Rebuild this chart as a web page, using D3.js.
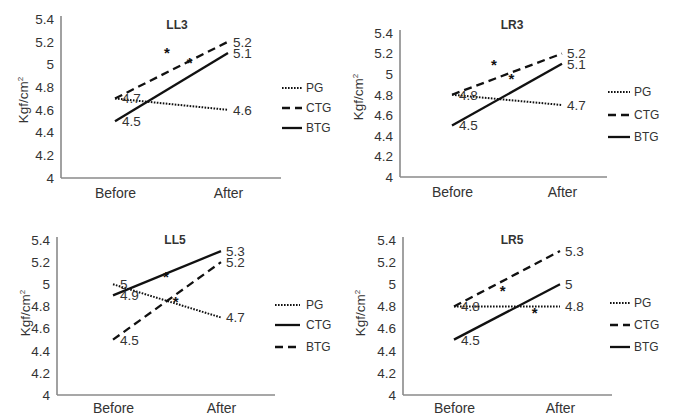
<!DOCTYPE html>
<html><head><meta charset="utf-8">
<script src="https://cdn.jsdelivr.net/npm/d3@7"></script>
<style>body{margin:0;background:#fff}svg{display:block}text{font-family:"Liberation Sans",Arial,sans-serif}</style>
</head><body><svg id="c" width="678" height="416"></svg>
<script>
// ---- data ----
const categories = ["Before", "After"];
const yTicks = [4, 4.2, 4.4, 4.6, 4.8, 5, 5.2, 5.4];
const panelTitles = ["LL3", "LR3", "LL5", "LR5"];
const seriesNames = ["PG", "CTG", "BTG"];
const yLabel = "Kgf/cm";

const LL3_PG = [4.7, 4.6], LL3_CTG = [4.7, 5.2], LL3_BTG = [4.5, 5.1];
const LR3_PG = [4.8, 4.7], LR3_CTG = [4.8, 5.2], LR3_BTG = [4.5, 5.1];
const LL5_PG = [5.0, 4.7], LL5_CTG = [4.9, 5.3], LL5_BTG = [4.5, 5.2];
const LR5_PG = [4.8, 4.8], LR5_CTG = [4.8, 5.3], LR5_BTG = [4.5, 5.0];

// significance asterisks: [fraction between Before and After, value]
const LL3_stars = [[0.46, 5.13], [0.66, 5.04]];
const LR3_stars = [[0.38, 5.12], [0.54, 4.98]];
const LL5_stars = [[0.49, 5.09], [0.58, 4.87]];
const LR5_stars = [[0.46, 4.97], [0.76, 4.77]];

// ---- layout / style ----
const dashStyles = {dotted: "1.6,1.4", dashed: "8,5", solid: null};
const panels = [
  {title: panelTitles[0], data: [LL3_PG, LL3_CTG, LL3_BTG], styles: ["dotted","dashed","solid"], stars: LL3_stars,
   ax: 61, xEnd: 281, yTop: 19, yBot: 178, bx: 115, afx: 228, tx: 177, ty: 25, pad: 10,
   lx0: 282, lx1: 302, ltx: 306, ly: [88,108,128], ylx: 23, yly: 100},
  {title: panelTitles[1], data: [LR3_PG, LR3_CTG, LR3_BTG], styles: ["dotted","dashed","solid"], stars: LR3_stars,
   ax: 400, xEnd: 607, yTop: 33, yBot: 177, bx: 452, afx: 562, tx: 512, ty: 25, pad: 10,
   lx0: 608, lx1: 630, ltx: 634, ly: [92,115,137], ylx: 358, yly: 97},
  {title: panelTitles[2], data: [LL5_PG, LL5_CTG, LL5_BTG], styles: ["dotted","solid","dashed"], stars: LL5_stars,
   ax: 57, xEnd: 275, yTop: 240, yBot: 395, bx: 113, afx: 221, tx: 175, ty: 240, pad: 8,
   lx0: 275, lx1: 300, ltx: 306, ly: [305,325,347], ylx: 25, yly: 313},
  {title: panelTitles[3], data: [LR5_PG, LR5_CTG, LR5_BTG], styles: ["dotted","dashed","solid"], stars: LR5_stars,
   ax: 403, xEnd: 612, yTop: 240, yBot: 395, bx: 454, afx: 560, tx: 512, ty: 240, pad: 8,
   lx0: 610, lx1: 630, ltx: 634, ly: [303,325,347], ylx: 360, yly: 313}
];

const svg = d3.select("#c");
const fmt = d => String(+d.toFixed(1));
const txtCol = "#333";

panels.forEach(p => {
  const g = svg.append("g");
  const y = d3.scaleLinear().domain([4, 5.4]).range([p.yBot, p.yTop]);
  const x = d3.scalePoint().domain(categories).range([p.bx, p.afx]);

  // y axis
  const yAxis = g.append("g").attr("transform", `translate(${p.ax},0)`)
    .call(d3.axisLeft(y).tickValues(yTicks).tickFormat(fmt).tickSize(0).tickPadding(7));
  yAxis.select(".domain").attr("stroke", "#8a8a8a").attr("stroke-width", 1.6)
    .attr("d", `M0,${p.yTop - 3}V${p.yBot}`);
  yAxis.selectAll("text").attr("font-size", 13.5).attr("fill", txtCol).attr("font-family", null);

  // x axis
  const xAxis = g.append("g").attr("transform", `translate(0,${p.yBot})`)
    .call(d3.axisBottom(x).tickSize(0).tickPadding(p.pad));
  xAxis.select(".domain").attr("stroke", "#8a8a8a").attr("stroke-width", 1.6)
    .attr("d", `M${p.ax},0H${p.xEnd}`);
  xAxis.selectAll("text").attr("font-size", 14).attr("fill", txtCol).attr("font-family", null);

  // title
  g.append("text").attr("x", p.tx).attr("y", p.ty).attr("dy", "0.35em")
    .attr("text-anchor", "middle").attr("font-size", 12).attr("font-weight", "bold")
    .attr("fill", txtCol).text(p.title);

  // y label
  const yl = g.append("text").attr("transform", `translate(${p.ylx},${p.yly}) rotate(-90)`)
    .attr("text-anchor", "middle").attr("dy", "0.35em").attr("font-size", 13.5).attr("fill", txtCol);
  yl.append("tspan").text(yLabel);
  yl.append("tspan").attr("font-size", 8).attr("dy", "-0.6em").text("2");

  // lines
  const line = d3.line().x((d, i) => x(categories[i])).y(d => y(d));
  p.data.forEach((vals, si) => {
    const st = p.styles[si];
    g.append("path").datum(vals).attr("d", line).attr("fill", "none")
      .attr("stroke", "#111").attr("stroke-width", st === "dotted" ? 2 : 2.3)
      .attr("stroke-dasharray", dashStyles[st]);
  });

  // value labels (identical labels at the same spot drawn once)
  const seen = new Set();
  p.data.forEach(vals => {
    vals.forEach((v, i) => {
      const key = i + ":" + v;
      if (seen.has(key)) return;
      seen.add(key);
      g.append("text").attr("x", x(categories[i]) + (i === 0 ? 7 : 5)).attr("y", y(v))
        .attr("dy", "0.36em").attr("font-size", 13.5).attr("fill", txtCol).text(fmt(v));
    });
  });

  // asterisks
  p.stars.forEach(([t, v]) => {
    g.append("text").attr("x", p.bx + t * (p.afx - p.bx)).attr("y", y(v))
      .attr("dy", 8).attr("text-anchor", "middle").attr("font-size", 15)
      .attr("font-weight", "bold").attr("fill", "#111").text("*");
  });

  // legend
  seriesNames.forEach((name, si) => {
    const st = p.styles[si];
    g.append("line").attr("x1", p.lx0).attr("x2", p.lx1).attr("y1", p.ly[si]).attr("y2", p.ly[si])
      .attr("stroke", "#111").attr("stroke-width", st === "dotted" ? 2 : 2.3)
      .attr("stroke-dasharray", dashStyles[st]);
    g.append("text").attr("x", p.ltx).attr("y", p.ly[si]).attr("dy", "0.36em")
      .attr("font-size", 12).attr("fill", txtCol).text(name);
  });
});
</script></body></html>
